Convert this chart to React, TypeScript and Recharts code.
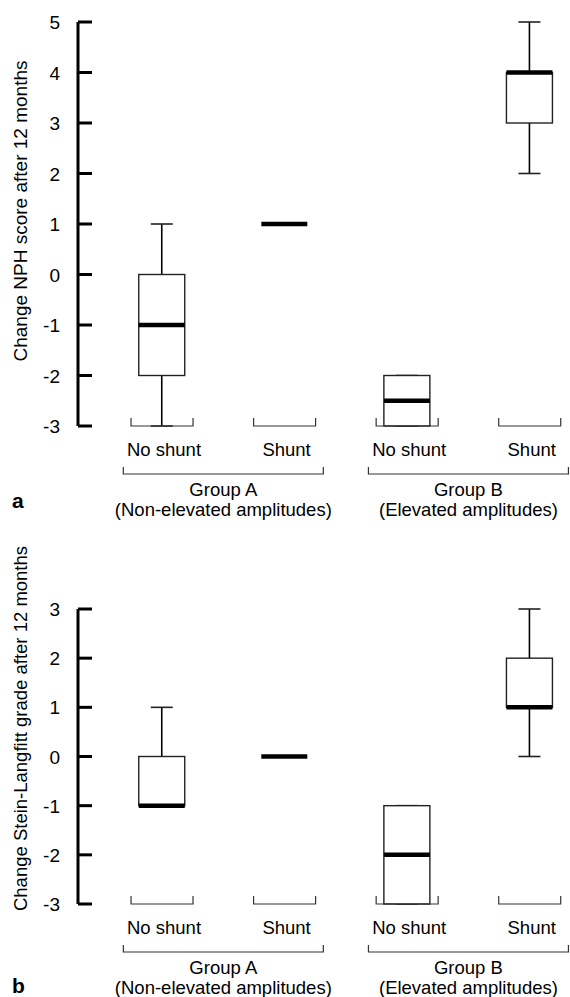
import React from "react";
import { Bar, BarChart, XAxis, YAxis } from "recharts";

const FONT = "'Liberation Sans', Arial, Helvetica, sans-serif";
const FS = 18.5;

// categories
const catKeys = ["A-no", "A-sh", "B-no", "B-sh"];
const catLabels = ["No shunt", "Shunt", "No shunt", "Shunt"];
const groups = ["Group A", "Group A", "Group B", "Group B"];
const groupNotes: Record<string, string> = {
  "Group A": "(Non-elevated amplitudes)",
  "Group B": "(Elevated amplitudes)",
};

// panel a: change NPH score
const nphMin = [-3, 1, -3, 2];
const nphQ1 = [-2, 1, -3, 3];
const nphMedian = [-1, 1, -2.5, 4];
const nphQ3 = [0, 1, -2, 4];
const nphMax = [1, 1, -2, 5];
const nphTicks = [-3, -2, -1, 0, 1, 2, 3, 4, 5];

// panel b: change Stein-Langfitt grade
const slMin = [-1, 0, -3, 0];
const slQ1 = [-1, 0, -3, 1];
const slMedian = [-1, 0, -2, 1];
const slQ3 = [0, 0, -1, 2];
const slMax = [1, 0, -1, 3];
const slTicks = [-3, -2, -1, 0, 1, 2, 3];

function rows(mins: number[], q1: number[], med: number[], q3: number[], maxs: number[]) {
  return catKeys.map((k, i) => ({
    key: k,
    group: groups[i],
    range: [mins[i], maxs[i]],
    min: mins[i],
    q1: q1[i],
    median: med[i],
    q3: q3[i],
    max: maxs[i],
  }));
}

const BoxShape = (props: any) => {
  const { x, y, width, height, payload } = props;
  const { min, q1, median, q3, max } = payload;
  const cx = x + width / 2;
  if (max === min) {
    return <line x1={x} x2={x + width} y1={y} y2={y} stroke="#000" strokeWidth={4.5} />;
  }
  const ppu = height / (max - min);
  const Y = (v: number) => y + (max - v) * ppu;
  const cap = 11;
  return (
    <g>
      <line x1={cx} x2={cx} y1={Y(max)} y2={Y(q3)} stroke="#000" strokeWidth={1.6} />
      <line x1={cx} x2={cx} y1={Y(q1)} y2={Y(min)} stroke="#000" strokeWidth={1.6} />
      <line x1={cx - cap} x2={cx + cap} y1={Y(max)} y2={Y(max)} stroke="#222" strokeWidth={1.6} />
      <line x1={cx - cap} x2={cx + cap} y1={Y(min)} y2={Y(min)} stroke="#222" strokeWidth={1.6} />
      <rect x={x} y={Y(q3)} width={width} height={Y(q1) - Y(q3)} fill="#fff" stroke="#222" strokeWidth={1.4} />
      <line x1={x} x2={x + width} y1={Y(median)} y2={Y(median)} stroke="#000" strokeWidth={4.5} />
    </g>
  );
};

const YTick = (props: any) => {
  const { x, y, payload } = props;
  return (
    <g>
      <line x1={x} x2={x + 14} y1={y} y2={y} stroke="#000" strokeWidth={3} />
      <text x={x - 18} y={y + 7} textAnchor="end" fontSize={19} fontFamily={FONT} fill="#000">
        {payload.value}
      </text>
    </g>
  );
};

const CatTick = (props: any) => {
  const { x, y, payload } = props;
  const label = catLabels[catKeys.indexOf(payload.value)];
  return (
    <g>
      <path
        d={`M${x - 31},${y - 8} L${x - 31},${y} L${x + 31},${y} L${x + 31},${y - 8}`}
        fill="none"
        stroke="#333"
        strokeWidth={1.2}
      />
      <text x={x + 2} y={y + 30} textAnchor="middle" fontSize={FS} fontFamily={FONT} fill="#000">
        {label}
      </text>
    </g>
  );
};

const GroupTick = (props: any) => {
  const { x, y, payload } = props;
  return (
    <g>
      <path
        d={`M${x - 100},${y - 7} L${x - 100},${y} L${x + 100},${y} L${x + 100},${y - 7}`}
        fill="none"
        stroke="#333"
        strokeWidth={1.2}
      />
      <text x={x} y={y + 21.5} textAnchor="middle" fontSize={FS} fontFamily={FONT} fill="#000">
        {payload.value}
      </text>
      <text x={x} y={y + 41.5} textAnchor="middle" fontSize={FS} fontFamily={FONT} fill="#000">
        {groupNotes[payload.value]}
      </text>
    </g>
  );
};

const YLabel = (props: any) => {
  const { viewBox, text, shift, size } = props;
  const cx = viewBox.x + 27;
  const cy = viewBox.y + viewBox.height / 2 + shift;
  return (
    <text
      x={cx}
      y={cy}
      transform={`rotate(-90, ${cx}, ${cy})`}
      textAnchor="middle"
      fontSize={size}
      fontFamily={FONT}
      fill="#000"
    >
      {text}
    </text>
  );
};

function BoxPanel(props: {
  data: any[];
  ticks: number[];
  height: number;
  top: number;
  label: string;
  labelShift: number;
  labelSize: number;
}) {
  const { data, ticks, height, top, label, labelShift, labelSize } = props;
  return (
    <BarChart
      width={591}
      height={height}
      data={data}
      margin={{ top, right: 0, bottom: 0, left: 0 }}
    >
      <XAxis
        xAxisId="cat"
        dataKey="key"
        type="category"
        interval={0}
        axisLine={false}
        tickLine={false}
        tickSize={0}
        tickMargin={0}
        height={48}
        padding={{ left: 22.75, right: 0 }}
        tick={<CatTick />}
      />
      <XAxis
        xAxisId="grp"
        dataKey="group"
        type="category"
        allowDuplicatedCategory={false}
        interval={0}
        axisLine={false}
        tickLine={false}
        tickSize={0}
        tickMargin={0}
        height={46}
        padding={{ left: 22.75, right: 0 }}
        tick={<GroupTick />}
      />
      <YAxis
        type="number"
        domain={[ticks[0], ticks[ticks.length - 1]]}
        ticks={ticks}
        interval={0}
        width={78}
        axisLine={{ stroke: "#000", strokeWidth: 3 }}
        tickLine={false}
        tickSize={0}
        tickMargin={0}
        tick={<YTick />}
        label={<YLabel text={label} shift={labelShift} size={labelSize} />}
      />
      <Bar
        xAxisId="cat"
        dataKey="range"
        barSize={46}
        shape={<BoxShape />}
        isAnimationActive={false}
      />
    </BarChart>
  );
}

export default function App() {
  const nphData = rows(nphMin, nphQ1, nphMedian, nphQ3, nphMax);
  const slData = rows(slMin, slQ1, slMedian, slQ3, slMax);
  return (
    <div
      style={{
        position: "absolute",
        left: 0,
        top: 0,
        width: 570,
        height: 997,
        overflow: "hidden",
        background: "#fff",
      }}
    >
      <div style={{ position: "absolute", left: 0, top: 0 }}>
        <BoxPanel
          data={nphData}
          ticks={nphTicks}
          height={520}
          top={22}
          label="Change NPH score after 12 months"
          labelShift={-13}
          labelSize={19}
        />
      </div>
      <div style={{ position: "absolute", left: 0, top: 520 }}>
        <BoxPanel
          data={slData}
          ticks={slTicks}
          height={478}
          top={89}
          label="Change Stein-Langfitt grade after 12 months"
          labelShift={-28}
          labelSize={18.5}
        />
      </div>
      <svg
        width={570}
        height={997}
        style={{ position: "absolute", left: 0, top: 0, pointerEvents: "none" }}
      >
        <text x={12} y={508} fontSize={21} fontWeight="bold" fontFamily={FONT} fill="#000">
          a
        </text>
        <text x={12} y={993} fontSize={21} fontWeight="bold" fontFamily={FONT} fill="#000">
          b
        </text>
      </svg>
    </div>
  );
}
